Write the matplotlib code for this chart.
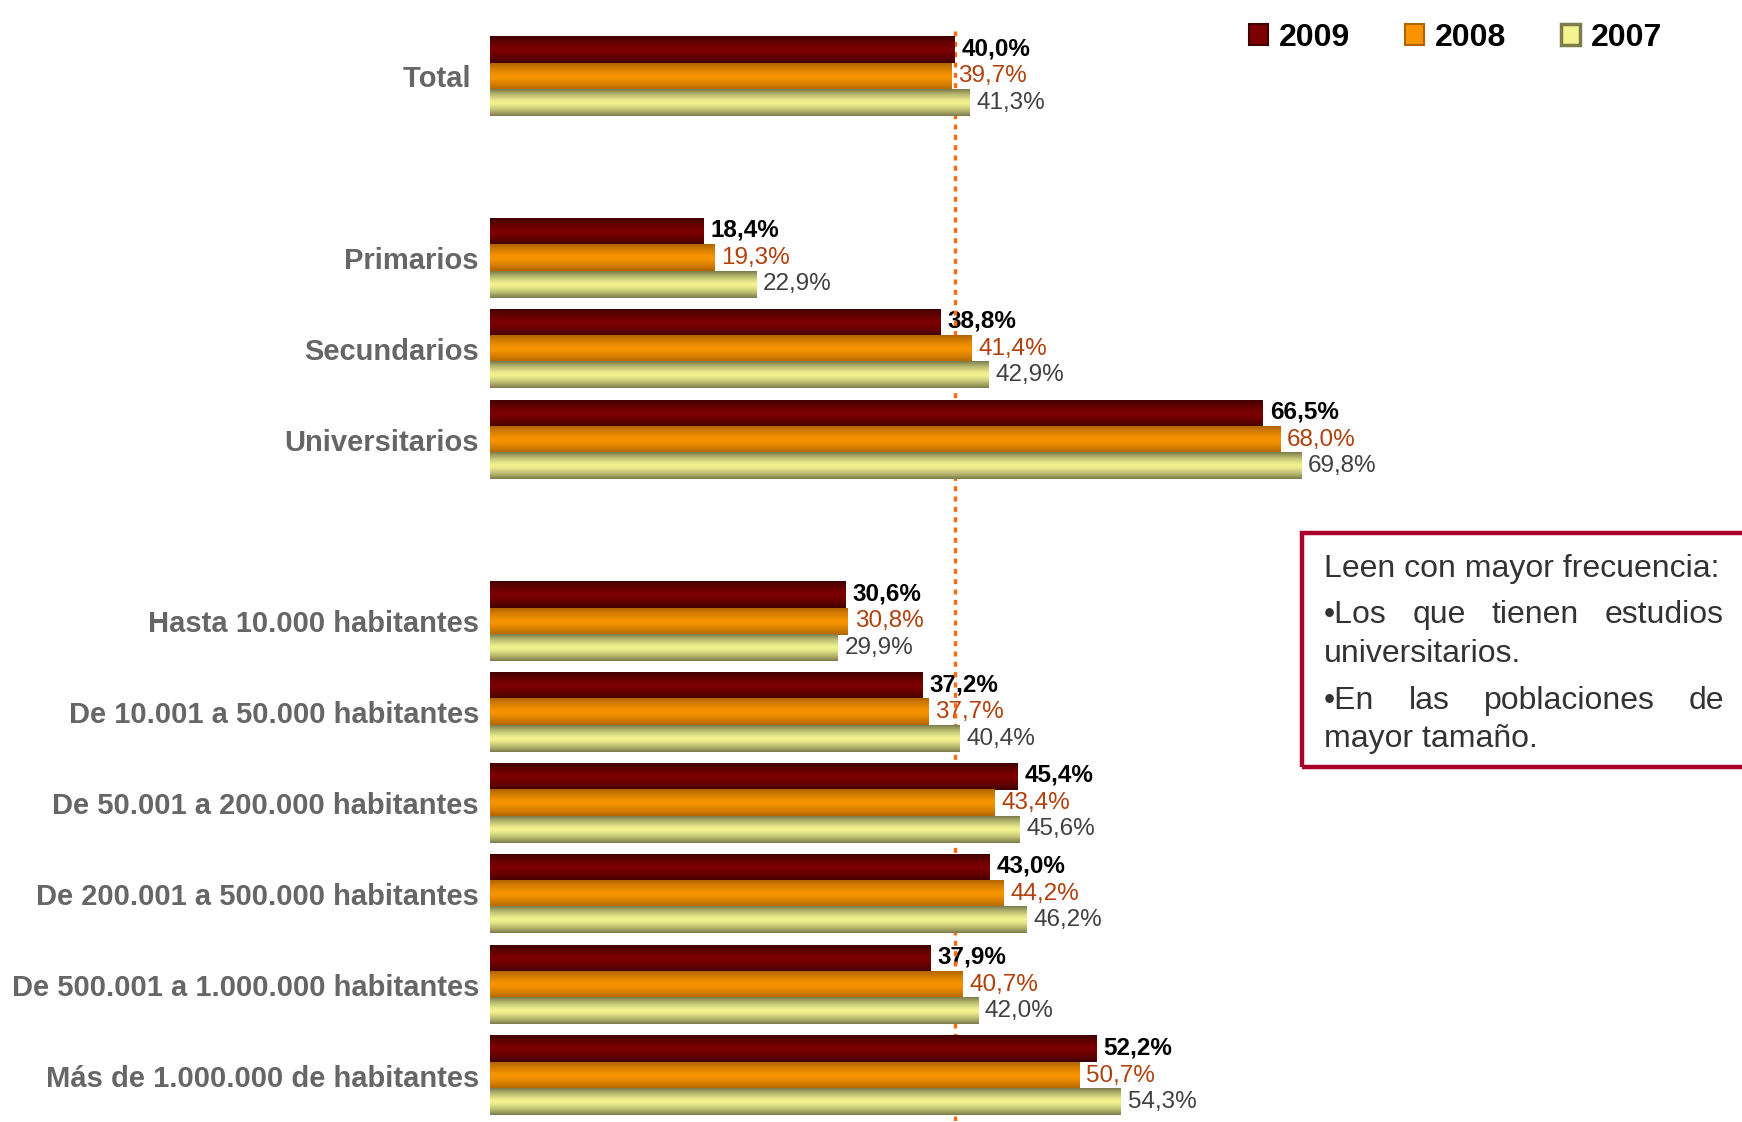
import matplotlib
matplotlib.use("Agg")
import matplotlib.pyplot as plt
from matplotlib.patches import Patch, Rectangle
from matplotlib.colors import to_rgb
import numpy as np

plt.rcParams['font.family'] = ['Liberation Sans', 'DejaVu Sans']

categories = ['Total ', 'Primarios', 'Secundarios', 'Universitarios',
              'Hasta 10.000 habitantes', 'De 10.001 a 50.000 habitantes',
              'De 50.001 a 200.000 habitantes', 'De 200.001 a 500.000 habitantes',
              'De 500.001 a 1.000.000 habitantes', 'Más de 1.000.000 de habitantes']
positions = [0, 2, 3, 4, 6, 7, 8, 9, 10, 11]
years = ['2009', '2008', '2007']
v2009 = [40.0, 18.4, 38.8, 66.5, 30.6, 37.2, 45.4, 43.0, 37.9, 52.2]
v2008 = [39.7, 19.3, 41.4, 68.0, 30.8, 37.7, 43.4, 44.2, 40.7, 50.7]
v2007 = [41.3, 22.9, 42.9, 69.8, 29.9, 40.4, 45.6, 46.2, 42.0, 54.3]
ref_line = 40.0

# (edge, centre) of the bar gradients
shades = [('#400000', '#7c0000'), ('#b06400', '#f79400'), ('#7c7c4c', '#f3f391')]
label_colors = ['#000000', '#b0400c', '#404040']
label_weights = ['bold', 'normal', 'normal']

fig = plt.figure(figsize=(17.42, 11.22), dpi=100)
ax = fig.add_axes([490 / 1742, 1 / 1122, 1162 / 1742, 1090 / 1122])

bh = 0.29
t = np.linspace(0, 1, 64)
prof = 1 - np.abs(2 * t - 1) ** 1.4

for k, (vals, (ce, cc)) in enumerate(zip([v2009, v2008, v2007], shades)):
    offs = (k - 1) * bh
    ys = [p + offs for p in positions]
    bars = ax.barh(ys, vals, height=bh, color=cc, zorder=3)
    e, c = np.array(to_rgb(ce)), np.array(to_rgb(cc))
    grad = (e[None, :] + (c - e)[None, :] * prof[:, None])[:, None, :]
    for b in bars:
        x0, y0 = b.get_x(), b.get_y()
        ax.imshow(grad, extent=(x0, x0 + b.get_width(), y0 + b.get_height(), y0),
                  aspect='auto', interpolation='bilinear', zorder=4)
    for y, v in zip(ys, vals):
        ax.annotate(f'{v:.1f}%'.replace('.', ','), (v, y), xytext=(5, 1 if k == 0 else 0),
                    textcoords='offset points', ha='left', va='center',
                    fontsize=17.5, color=label_colors[k], fontweight=label_weights[k],
                    zorder=1)

ax.axvline(ref_line, color='#ff6a10', lw=2.4, ls=(0, (1.5, 1.6)), zorder=2)

ax.set_xlim(0, 100)
ax.set_ylim(11.5, -0.5)
ax.set_yticks(positions)
ax.set_yticklabels(categories, fontsize=21, fontweight='bold', color='#666666')
ax.tick_params(axis='y', length=0, pad=8)
ax.set_xticks([])
for s in ax.spines.values():
    s.set_visible(False)

handles = [Patch(facecolor=shades[0][1], edgecolor=shades[0][0], lw=1.5),
           Patch(facecolor=shades[1][1], edgecolor=shades[1][0], lw=1.5),
           Patch(facecolor=shades[2][1], edgecolor=shades[2][0], lw=2.5)]
leg = fig.legend(handles, years, loc='upper left', bbox_to_anchor=(1220 / 1742, 1 + 6 / 1122),
                 ncol=3, frameon=False, prop={'size': 23, 'weight': 'bold'},
                 handlelength=0.6, handleheight=0.6, handletextpad=0.35,
                 columnspacing=1.7)

# comment box
fig.patches.append(Rectangle((1302 / 1742, 1 - 767 / 1122), 0.3, 234 / 1122,
                             transform=fig.transFigure, fill=False,
                             edgecolor='#a8002a', lw=3.2))

box_left, box_right = 1324, 1724
lines = [("Leen con mayor frecuencia:", False, 569),
         ("•Los que tienen estudios", True, 615),
         ("universitarios.", False, 654),
         ("•En las poblaciones de", True, 701),
         ("mayor tamaño.", False, 739)]
fsz = 23
renderer = fig.canvas.get_renderer()
for txt, justify, ypx in lines:
    yf = 1 - ypx / 1122
    if not justify:
        fig.text(box_left / 1742, yf, txt, fontsize=fsz, color='#333333',
                 ha='left', va='center')
        continue
    words = txt.split()
    objs = [fig.text(0, yf, w, fontsize=fsz, color='#333333', ha='left', va='center')
            for w in words]
    widths = [o.get_window_extent(renderer).width for o in objs]
    gap = (box_right - box_left - sum(widths)) / (len(words) - 1)
    x = box_left
    for o, w in zip(objs, widths):
        o.set_x(x / 1742)
        x += w + gap

fig.savefig('out.png', dpi=100)
